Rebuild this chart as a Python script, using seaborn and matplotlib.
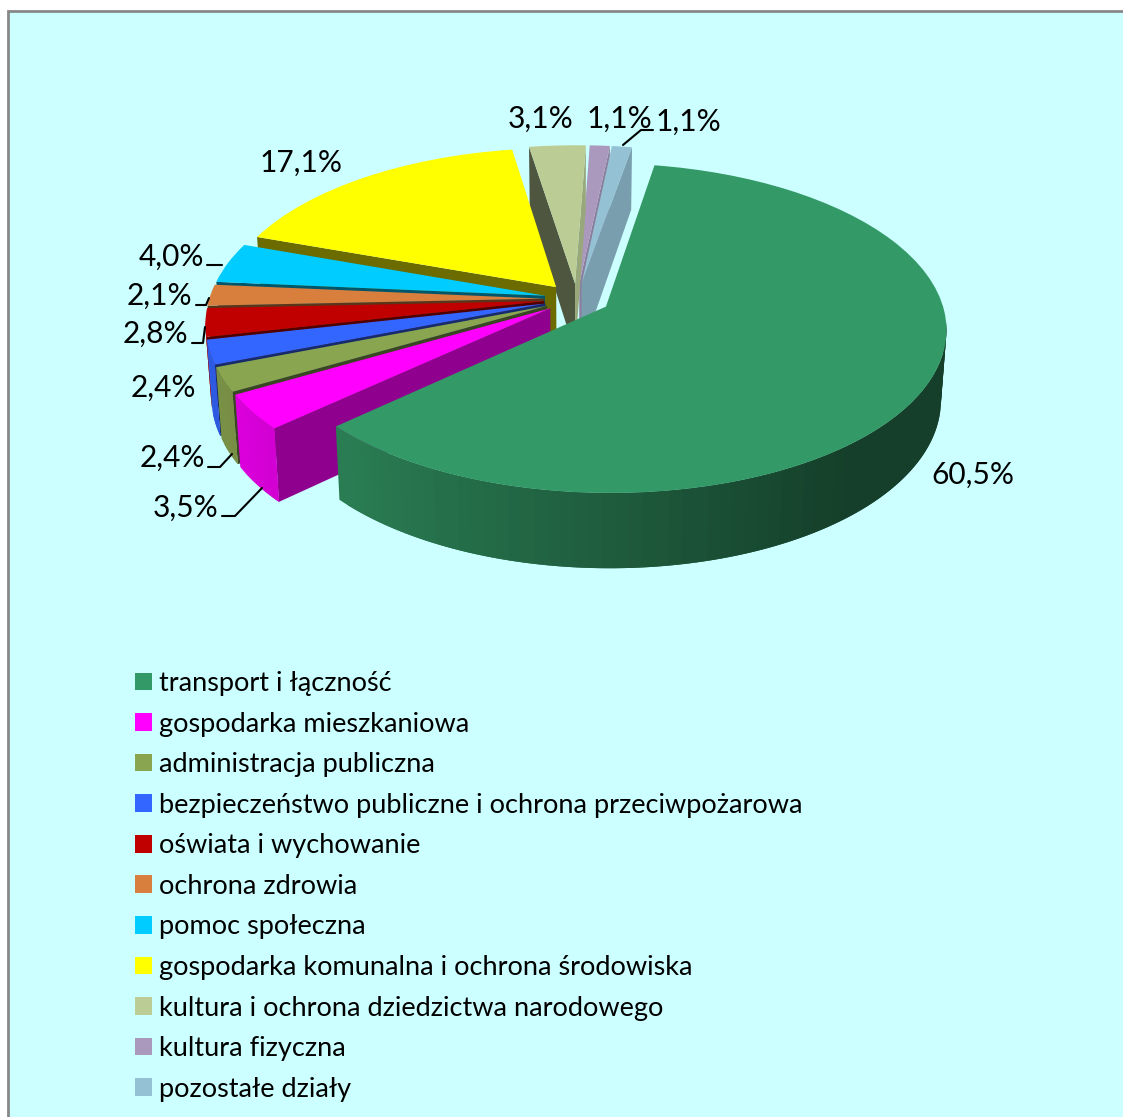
import numpy as np
import seaborn as sns
import matplotlib.pyplot as plt
from matplotlib.patches import Rectangle
from matplotlib.transforms import Transform

# Dane
categories = ['transport i łączność', 'gospodarka mieszkaniowa', 'administracja publiczna',
              'bezpieczeństwo publiczne i ochrona przeciwpożarowa', 'oświata i wychowanie',
              'ochrona zdrowia', 'pomoc społeczna', 'gospodarka komunalna i ochrona środowiska',
              'kultura i ochrona dziedzictwa narodowego', 'kultura fizyczna', 'pozostałe działy']
shares = [60.5, 3.5, 2.4, 2.4, 2.8, 2.1, 4.0, 17.1, 3.1, 1.1, 1.1]
colors = ['#339966', '#ff00ff', '#8aa54f', '#3366ff', '#c00000', '#d87f3d',
          '#00ccff', '#ffff00', '#bbcd95', '#aa99bd', '#94c1d3']

W, H = 1123, 1117

# Widok perspektywiczny kola
OX, OY, RX, RY, K = 577, 299, 335, 160, 0.13


class PieView(Transform):
    input_dims = 2
    output_dims = 2
    is_separable = False
    has_inverse = False

    def transform_non_affine(self, values):
        values = np.asarray(values, dtype=float)
        w = 1 + K * values[:, 1]
        return np.column_stack((OX + RX * values[:, 0] / w, OY - RY * values[:, 1] / w))


def depth(y):
    return 69 - 6 * np.asarray(y)


sns.set_theme(style='white')
plt.rcParams['font.family'] = ['Lato', 'DejaVu Sans']

fig = plt.figure(figsize=(W / 100, H / 100), dpi=100, facecolor='white')
ax = fig.add_axes([0, 0, 1, 1])

view = PieView()
wedges, _ = ax.pie(shares, colors=sns.color_palette(colors), startangle=80, counterclock=False,
                   explode=[0.098] * len(shares), radius=1, wedgeprops={'linewidth': 0})
ax.set_aspect('auto')
ax.set_xlim(0, W)
ax.set_ylim(H, 0)
ax.set_axis_off()

# Tlo i ramka
ax.add_patch(Rectangle((8, 11), W + 20, H + 20, facecolor='#ccffff', edgecolor='#888888',
                       linewidth=2, zorder=0))


def shade(color, f):
    return tuple(c * f for c in color)


def rim(w, phi):
    return w.center[0] + np.cos(phi), w.center[1] + np.sin(phi)


def drop_poly(x, y, color, z):
    # sciana pod krawedzia w rzucie, dol lekko zwezony
    pts = view.transform(np.column_stack((x, y)))
    d = depth(y)
    low_x = OX + (pts[:, 0] - OX) * 0.985
    xs = np.r_[pts[:, 0], low_x[::-1]]
    ys = np.r_[pts[:, 1], (pts[:, 1] + d)[::-1]]
    ax.fill(xs, ys, color=color, linewidth=0, zorder=z)


# Kolejnosc rysowania: od tylu do przodu
order = [9, 10, 8, 7, 6, 5, 4, 3, 2, 1, 0]
for rank, i in enumerate(order):
    w = wedges[i]
    z = 2 + rank * 2
    rgb = sns.color_palette([colors[i]])[0]
    t1, t2 = np.radians(w.theta1), np.radians(w.theta2)

    # sciany radialne
    if np.cos(t2) < 0:
        f = 0.56 if np.degrees(np.pi / 2 - t2) % 360 < 235 else 0.42
        x, y = rim(w, t2)
        drop_poly([w.center[0], x], [w.center[1], y], shade(rgb, f), z)
    if np.cos(t1) > 0:
        x, y = rim(w, t1)
        drop_poly([w.center[0], x], [w.center[1], y], shade(rgb, 0.82), z)

    # sciana zewnetrzna z cieniowaniem, segmenty nachodza na siebie
    n = max(2, int((w.theta2 - w.theta1) / 2))
    edges = np.linspace(t1, t2, n + 1)
    step = edges[1] - edges[0]
    for a, b in zip(edges[:-1], edges[1:]):
        m = (a + b) / 2
        if np.sin(m) < -K:
            f = np.clip(0.6 - 0.3 * np.cos(m), 0.41, 0.9)
            end = min(b + step, t2)
            x, y = rim(w, np.linspace(a, end, 4))
            drop_poly(x, y, shade(rgb, f), z)

    w.set_transform(view + ax.transData)
    w.set_zorder(z + 1)

# Etykiety procentowe
label_xy = [(973, 475), (186, 508), (172, 458), (163, 388), (155, 334), (159, 296),
            (171, 257), (301, 163), (541, 119), (619, 119), (688, 122)]
for v, (x, y) in zip(shares, label_xy):
    ax.text(x, y, f'{v:.1f}%'.replace('.', ','), ha='center', va='center',
            fontsize=21.5, color='black', zorder=40)

# Linie odniesienia
leaders = [[(207, 265), (222, 265)],
           [(196, 305), (206, 305), (209, 298)],
           [(192, 343), (203, 343), (205, 327)],
           [(208, 467), (220, 467), (232, 454)],
           [(222, 516), (235, 516), (262, 488)],
           [(653, 130), (641, 130), (623, 145)]]
for pts in leaders:
    xs, ys = zip(*pts)
    ax.plot(xs, ys, color='black', linewidth=1.5, zorder=41)

# Legenda
ax.legend(wedges, categories, loc='upper left', bbox_to_anchor=(135 / W, 1 - 671 / H),
          bbox_transform=fig.transFigure, frameon=False, fontsize=19.5, labelcolor='black',
          handlelength=0.63, handleheight=0.63, handletextpad=0.26, labelspacing=0.575,
          borderpad=0, borderaxespad=0)

fig.savefig('out.png', dpi=100, facecolor='white')
